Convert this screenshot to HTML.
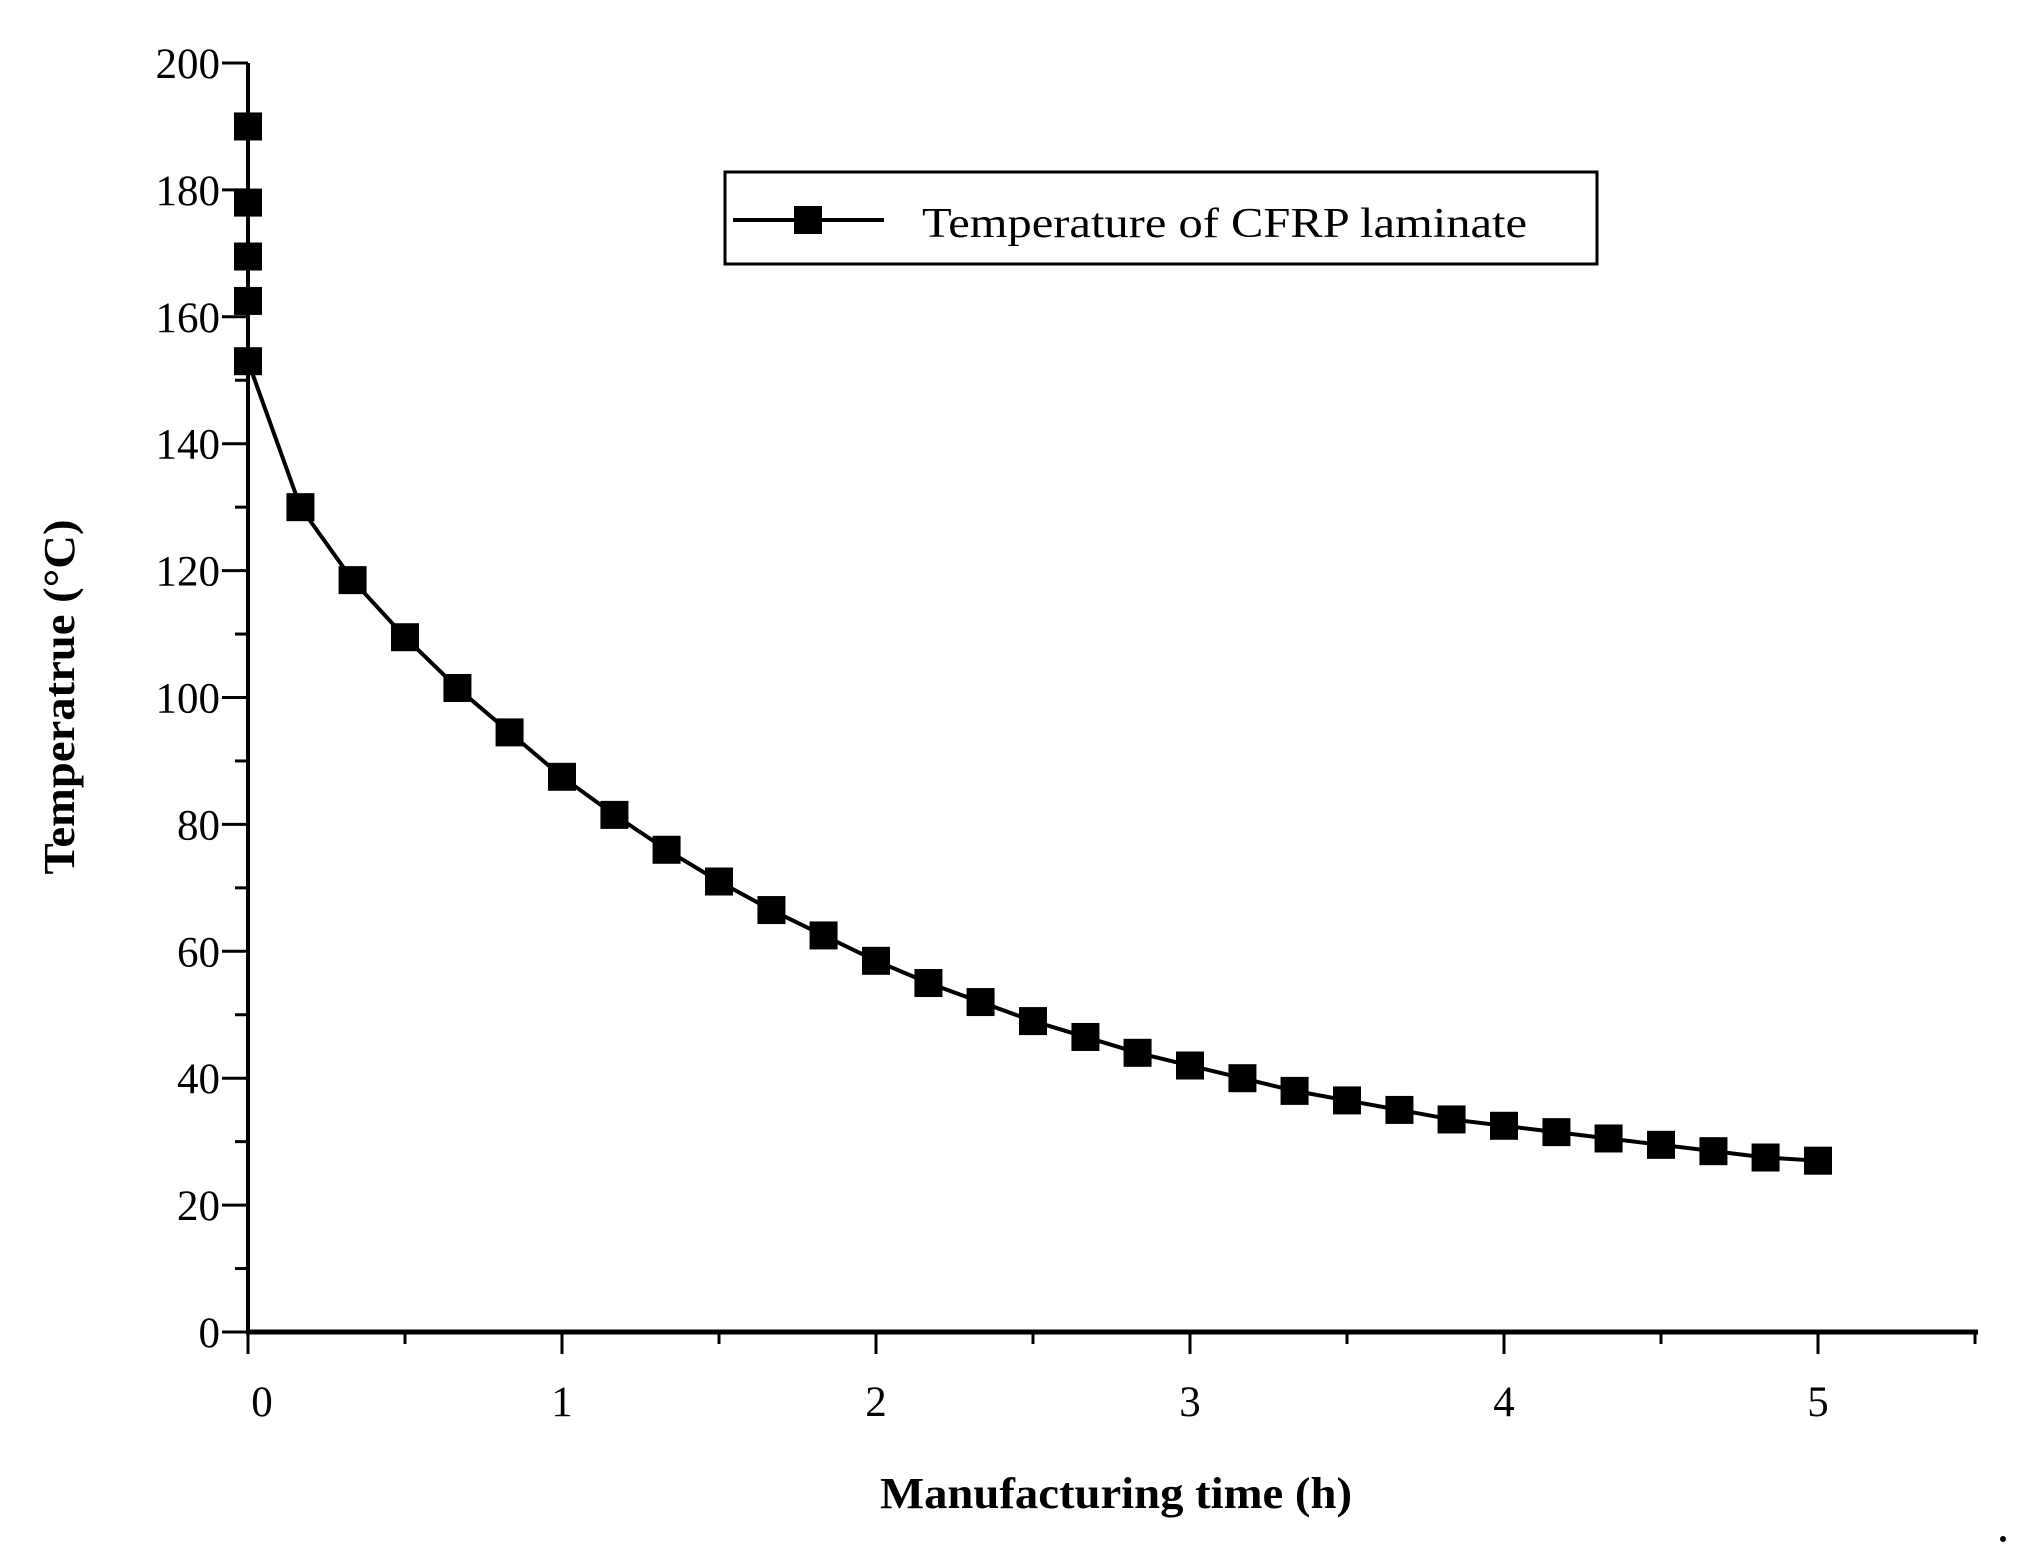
<!DOCTYPE html>
<html><head><meta charset="utf-8"><style>
html,body{margin:0;padding:0;background:#fff;}
svg{display:block;font-family:"Liberation Serif",serif;}
</style></head><body>
<svg id="chart" width="2023" height="1562" viewBox="0 0 2023 1562" xmlns="http://www.w3.org/2000/svg">
<g id="axes"></g>
<g id="series"></g>
<g>
<rect x="725" y="172" width="872" height="92" fill="#fff" stroke="#000" stroke-width="3"/>
<line x1="733" y1="220" x2="884" y2="220" stroke="#000" stroke-width="4"/>
<rect x="794" y="206" width="28" height="28" fill="#000"/>
<text x="922" y="237" font-size="42" textLength="605" lengthAdjust="spacingAndGlyphs">Temperature of CFRP laminate</text>
</g>
<text x="1116" y="1508" font-size="44" font-weight="bold" text-anchor="middle" textLength="472" lengthAdjust="spacingAndGlyphs">Manufacturing time (h)</text>
<text transform="translate(74,697) rotate(-90)" font-size="44" font-weight="bold" text-anchor="middle" textLength="355" lengthAdjust="spacingAndGlyphs">Temperatrue (°C)</text>
<circle cx="2003" cy="1539" r="3" fill="#000"/>
</svg>
<script>
const xValues = [0,0,0,0,0,0.167,0.333,0.5,0.667,0.833,1,1.167,1.333,1.5,1.667,1.833,2,2.167,2.333,2.5,2.667,2.833,3,3.167,3.333,3.5,3.667,3.833,4,4.167,4.333,4.5,4.667,4.833,5];
const yValues = [190,178,169.5,162.5,153,130,118.5,109.5,101.5,94.5,87.5,81.5,76,71,66.5,62.5,58.5,55,52,49,46.5,44,42,40,38,36.5,35,33.5,32.5,31.5,30.5,29.5,28.5,27.5,27];
const xTicks = [0,1,2,3,4,5];
const yTicks = [0,20,40,60,80,100,120,140,160,180,200];

const NS = "http://www.w3.org/2000/svg";
const X0 = 248, XS = 314, Y0 = 1332, YS = (1332 - 63) / 200;
function xs(v){ return X0 + v * XS; }
function ys(v){ return Y0 - v * YS; }
function mk(tag, attrs, parent){
  const e = document.createElementNS(NS, tag);
  for (const k in attrs) e.setAttribute(k, attrs[k]);
  parent.appendChild(e);
  return e;
}
const axes = document.getElementById('axes');
let l = mk('line', {x1:X0, y1:ys(200), x2:X0, y2:Y0+2, stroke:'#000', 'stroke-width':4}, axes);


l = mk('line', {x1:X0-2, y1:Y0, x2:1978, y2:Y0, stroke:'#000', 'stroke-width':5}, axes);


for (let v = 0; v <= 200; v += 10) {
  const major = v % 20 === 0;
  const t = mk('line', {x1:X0 - (major ? 26 : 13), y1:ys(v), x2:X0, y2:ys(v), stroke:'#000', 'stroke-width':3}, axes);
  
  
}
yTicks.forEach(v => {
  const t = mk('text', {x:220, y:ys(v)+15, 'font-size':43, 'text-anchor':'end'}, axes);
  t.textContent = v;
  
  
});
for (let v = 0; v <= 5.5; v += 0.5) {
  const major = Number.isInteger(v);
  const t = mk('line', {x1:xs(v), y1:Y0, x2:xs(v), y2:Y0 + (major ? 22 : 12), stroke:'#000', 'stroke-width':3}, axes);
  
  
}
xTicks.forEach(v => {
  const t = mk('text', {x:xs(v) + (v === 0 ? 14 : 0), y:1416, 'font-size':43, 'text-anchor':'middle'}, axes);
  t.textContent = v;
  
  
});
const series = document.getElementById('series');
const pts = xValues.map((x, i) => xs(x) + ',' + ys(yValues[i])).join(' ');
const pl = mk('polyline', {points:pts, fill:'none', stroke:'#000', 'stroke-width':4}, series);


xValues.forEach((x, i) => {
  const r = mk('rect', {x:xs(x)-14, y:ys(yValues[i])-14, width:28, height:28, fill:'#000'}, series);
  
  
});
</script>
</body></html>
